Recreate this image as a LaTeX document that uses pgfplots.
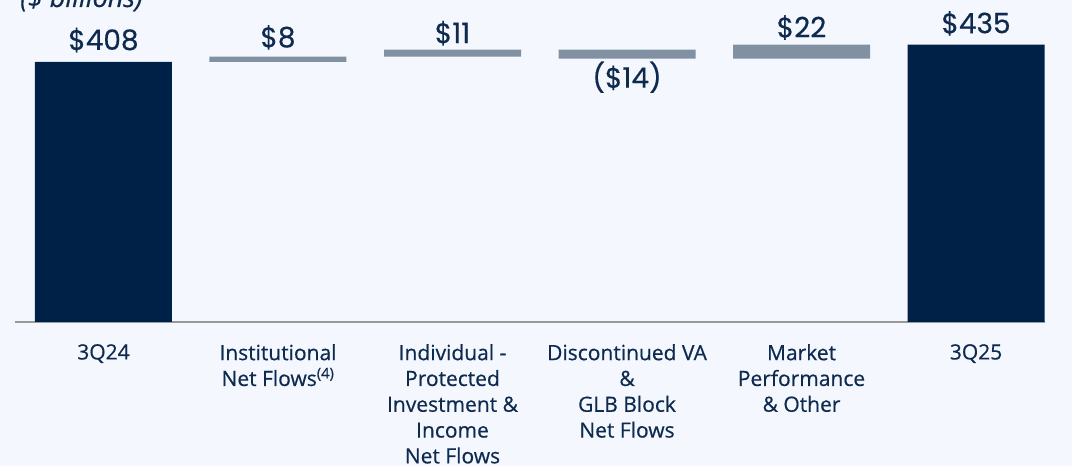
\documentclass[border=0pt]{standalone}
\usepackage{fontspec}
\setmainfont{Open Sans}[FakeBold=0.5]
\newfontfamily\valfont{Poppins}[FakeBold=0.4]
\usepackage{pgfplots}
\pgfplotsset{compat=1.18}
\definecolor{bg}{HTML}{F4F8FE}
\definecolor{navy}{HTML}{002147}
\definecolor{steel}{HTML}{8191A2}
\definecolor{txt}{HTML}{0E2A4E}
\definecolor{axisgray}{HTML}{999999}
\tikzset{vlab/.style={anchor=base, inner sep=0pt, text=txt, font=\valfont\fontsize{28}{32}\selectfont}}
\begin{document}
\begin{tikzpicture}[x=1pt,y=1pt]
\fill[bg] (0,0) rectangle (1072,466);
\useasboundingbox (0,0) rectangle (1072,466);
\node[anchor=base west, inner sep=0, font=\fontsize{27}{30}\selectfont\itshape, text=txt] at (20,459) {(\$ billions)};
\begin{axis}[
  at={(15pt,144pt)}, anchor=south west,
  scale only axis, width=1030pt, height=322pt,
  xmin=-0.507, xmax=5.395, ymin=0, ymax=505,
  ybar stacked, bar width=137pt,
  axis x line*=bottom, axis y line=none,
  x axis line style={draw=axisgray, line width=2pt},
  xtick={0,1,2,3,4,5},
  xticklabels={3Q24,{Institutional\\Net Flows\textsuperscript{(4)}},{Individual -\\Protected\\Investment \&\\Income\\Net Flows},{Discontinued VA\\\&\\GLB Block\\Net Flows},{Market\\Performance\\\& Other},3Q25},
  major tick length=0pt,
  xticklabel style={font=\fontsize{21}{25.8}\selectfont, text=txt, align=center, anchor=north, inner sep=0pt, yshift=-22pt},
  ytick=\empty,
  clip=false,
]
\addplot[draw=none, fill=bg, fill opacity=0] coordinates {(0,0) (1,408) (2,416) (3,413) (4,413) (5,0)};
\addplot[fill=navy, draw=none] coordinates {(0,408) (1,0) (2,0) (3,0) (4,0) (5,435)};
\addplot[fill=steel, draw=none] coordinates {(0,0) (1,8) (2,11) (3,14) (4,22) (5,0)};
\node[vlab, yshift=12pt] at (axis cs:0,408) {\$408};
\node[vlab, yshift=9.6pt] at (axis cs:1,416) {\$8};
\node[vlab, yshift=6.7pt] at (axis cs:2,427) {\$11};
\node[vlab, yshift=-29pt] at (axis cs:3,413) {(\$14)};
\node[vlab, yshift=7.3pt] at (axis cs:4,435) {\$22};
\node[vlab, yshift=11.4pt] at (axis cs:5,435) {\$435};
\end{axis}
\end{tikzpicture}
\end{document}
